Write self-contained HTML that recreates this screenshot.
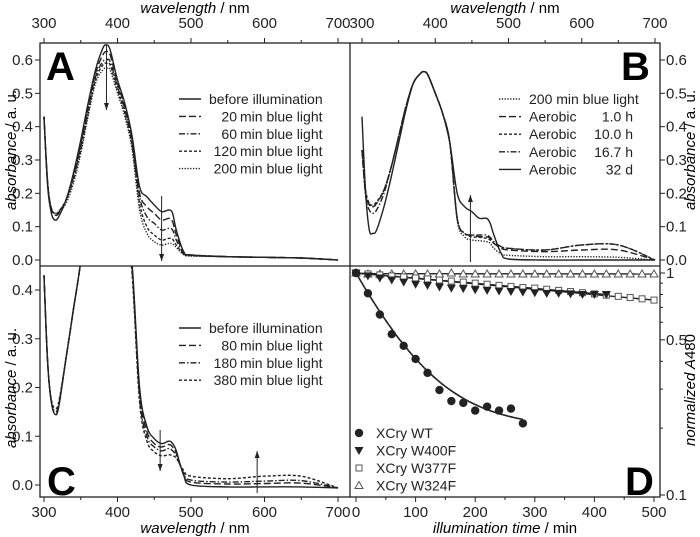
<!DOCTYPE html>
<html><head><meta charset="utf-8"><style>
body{margin:0;background:#fff}
svg{display:block;font-family:"Liberation Sans",sans-serif}
</style></head><body>
<svg id="fig" width="700" height="537" viewBox="0 0 700 537">
<defs>
<clipPath id="clipA"><rect x="40" y="43" width="310" height="223"/></clipPath>
<clipPath id="clipB"><rect x="350" y="43" width="310" height="223"/></clipPath>
<clipPath id="clipC"><rect x="40" y="266" width="310" height="231"/></clipPath>
<clipPath id="clipD"><rect x="350" y="266" width="310" height="231"/></clipPath>
</defs>
<g id="frames" fill="none" stroke="#222" stroke-width="1.3">
<rect x="40" y="43" width="620" height="454"/>
<line x1="350" y1="43" x2="350" y2="497"/>
<line x1="40" y1="266" x2="660" y2="266"/>
</g>
<g id="layer"></g>
<text x="195" y="13" text-anchor="middle" font-size="15"><tspan font-style="italic">wavelength</tspan> / nm</text>
<text x="505" y="13" text-anchor="middle" font-size="15"><tspan font-style="italic">wavelength</tspan> / nm</text>
<text x="195" y="533" text-anchor="middle" font-size="15"><tspan font-style="italic">wavelength</tspan> / nm</text>
<text x="505" y="533" text-anchor="middle" font-size="15"><tspan font-style="italic">illumination time</tspan> / min</text>
<text transform="translate(16,150) rotate(-90)" text-anchor="middle" font-size="15"><tspan font-style="italic">absorbance</tspan> / a. u.</text>
<text transform="translate(16,388) rotate(-90)" text-anchor="middle" font-size="15"><tspan font-style="italic">absorbance</tspan> / a. u.</text>
<text transform="translate(695,150) rotate(-90)" text-anchor="middle" font-size="15"><tspan font-style="italic">absorbance</tspan> / a. u.</text>
<text transform="translate(695,390) rotate(-90)" text-anchor="middle" font-size="15"><tspan font-style="italic">normalized A</tspan>480</text>
<text x="46" y="80" font-size="40" font-weight="bold">A</text>
<text x="621" y="80" font-size="40" font-weight="bold">B</text>
<text x="47" y="495" font-size="40" font-weight="bold">C</text>
<text x="625" y="495" font-size="40" font-weight="bold">D</text>
</svg>
<script>
// ---- data ----
const wl = [300,305,310,315,320,330,340,350,360,370,380,385,390,400,410,420,430,440,450,460,470,475,480,490,500,550,600,650,700];
const aBefore = [0.43,0.22,0.14,0.12,0.13,0.18,0.26,0.36,0.47,0.57,0.635,0.645,0.63,0.54,0.47,0.37,0.22,0.19,0.165,0.145,0.15,0.14,0.09,0.025,0.015,0.01,0.008,0.006,0.0];
const a20 = [0.43,0.23,0.15,0.135,0.14,0.18,0.25,0.35,0.46,0.56,0.615,0.625,0.615,0.53,0.46,0.36,0.2,0.16,0.14,0.12,0.125,0.115,0.075,0.022,0.015,0.01,0.008,0.006,0.0];
const a60 = [0.43,0.23,0.155,0.14,0.145,0.18,0.25,0.34,0.45,0.55,0.595,0.6,0.595,0.52,0.45,0.35,0.19,0.13,0.11,0.09,0.095,0.09,0.06,0.02,0.014,0.01,0.008,0.006,0.0];
const a120 = [0.43,0.23,0.155,0.14,0.145,0.18,0.24,0.33,0.44,0.54,0.585,0.59,0.585,0.51,0.44,0.34,0.17,0.1,0.075,0.06,0.065,0.062,0.045,0.018,0.013,0.01,0.008,0.006,0.0];
const a200 = [0.43,0.23,0.155,0.14,0.145,0.17,0.23,0.32,0.43,0.53,0.57,0.575,0.57,0.5,0.43,0.33,0.15,0.08,0.055,0.045,0.05,0.048,0.038,0.016,0.012,0.01,0.008,0.006,0.0];
const b200 = [0.33,0.2,0.17,0.16,0.17,0.21,0.28,0.37,0.46,0.53,0.56,0.565,0.555,0.5,0.44,0.35,0.12,0.07,0.06,0.058,0.055,0.05,0.035,0.018,0.014,0.01,0.01,0.008,0.0];
const b1h = [0.33,0.2,0.165,0.16,0.17,0.21,0.28,0.37,0.46,0.53,0.56,0.565,0.555,0.5,0.44,0.35,0.125,0.08,0.075,0.07,0.07,0.065,0.05,0.035,0.03,0.025,0.03,0.03,0.0];
const b10h = [0.33,0.21,0.17,0.165,0.175,0.21,0.28,0.37,0.46,0.53,0.56,0.565,0.555,0.5,0.44,0.35,0.125,0.08,0.07,0.068,0.065,0.06,0.05,0.04,0.035,0.03,0.045,0.045,0.0];
const b16h = [0.33,0.19,0.15,0.14,0.15,0.2,0.28,0.37,0.46,0.53,0.56,0.565,0.555,0.5,0.44,0.35,0.125,0.08,0.075,0.075,0.075,0.068,0.055,0.04,0.035,0.03,0.045,0.045,0.0];
const b32d = [0.43,0.2,0.09,0.08,0.09,0.16,0.25,0.35,0.45,0.53,0.56,0.565,0.555,0.5,0.44,0.35,0.2,0.16,0.145,0.125,0.125,0.11,0.075,0.02,0.003,0.0,0.0,0.0,0.0];
const cBefore = [0.43,0.25,0.17,0.145,0.16,0.26,0.36,0.46,0.6,0.7,0.75,0.75,0.74,0.66,0.56,0.45,0.2,0.12,0.095,0.085,0.09,0.085,0.07,0.02,0.0,-0.004,-0.004,-0.004,-0.006];
const c80 = [0.43,0.25,0.17,0.148,0.162,0.26,0.36,0.46,0.6,0.7,0.75,0.75,0.74,0.66,0.56,0.44,0.19,0.11,0.085,0.078,0.083,0.078,0.065,0.022,0.006,0.002,0.003,0.004,-0.006];
const c180 = [0.43,0.25,0.17,0.152,0.165,0.26,0.36,0.46,0.6,0.7,0.75,0.75,0.74,0.66,0.56,0.44,0.18,0.1,0.078,0.07,0.075,0.07,0.06,0.024,0.01,0.006,0.008,0.009,-0.006];
const c380 = [0.43,0.25,0.175,0.158,0.17,0.26,0.36,0.46,0.6,0.7,0.75,0.75,0.74,0.66,0.56,0.43,0.17,0.09,0.068,0.06,0.062,0.06,0.055,0.03,0.018,0.013,0.018,0.018,-0.006];
const tWT = [0,20,40,60,80,100,120,140,160,180,200,220,240,260,280];
const vWT = [1,0.81,0.65,0.53,0.47,0.41,0.355,0.297,0.265,0.26,0.24,0.25,0.24,0.245,0.21];
const t400 = [0,20,40,60,80,100,120,140,160,180,200,220,240,260,280,300,320,340,360,380,400,420];
const v400 = [1,0.97,0.95,0.93,0.91,0.89,0.88,0.865,0.855,0.85,0.84,0.835,0.83,0.825,0.82,0.815,0.81,0.81,0.805,0.8,0.8,0.8];
const t377 = [0,20,40,60,80,100,120,140,160,180,200,220,240,260,280,300,320,340,360,380,400,420,440,460,480,500];
const v377 = [1,0.99,0.98,0.97,0.96,0.95,0.94,0.93,0.92,0.91,0.9,0.89,0.88,0.87,0.86,0.855,0.845,0.835,0.825,0.815,0.805,0.795,0.785,0.775,0.765,0.755];
const t324 = [0,20,40,60,80,100,120,140,160,180,200,220,240,260,280,300,320,340,360,380,400,420,440,460,480,500];
const v324 = [1,0.99,0.99,0.99,0.99,0.99,0.99,0.99,1.0,0.99,0.99,0.99,0.99,0.99,0.99,0.99,0.99,0.99,0.99,0.99,0.99,0.99,0.99,0.99,0.99,0.99];
const fitWT = [0.8, 75, 0.2]; // amplitude, tau, offset
const fitT = [0, 500];
const fit400 = [1, 0.80];
const fit377 = [1, 0.755];
const fit324 = [0.993, 0.99];
const specTicks = [300,400,500,600,700];
const absTicksTop = [0.0,0.1,0.2,0.3,0.4,0.5,0.6];
const absTicksC = [0.0,0.1,0.2,0.3,0.4];
const timeTicks = [0,100,200,300,400,500];
const logTicks = [0.1,0.2,0.3,0.4,0.5,0.6,0.7,0.8,0.9,1];
const logLabels = ["0.1","","","","0.5","","","","","1"];

// ---- scales ----
const NS='http://www.w3.org/2000/svg';
const layer=document.getElementById('layer');
const xL = w => 44 + (w-300)*294/400;
const xR = w => 362 + (w-300)*293/400;
const yTop = v => 260 - v*200/0.6;
const yC = v => 485 - v*487.5;
const xD = t => 356 + t*298/500;
const yD = v => 273 - Math.log10(v)*222;
const DASH = {solid:'', longdash:'7,3', dashdot:'6,2,1.5,2', shortdash:'3,2', dot:'1.3,1.5'};

function mk(tag, attrs, parent){const e=document.createElementNS(NS,tag);for(const k in attrs)e.setAttribute(k,attrs[k]);(parent||layer).appendChild(e);return e;}
function smooth(pts){let d='M'+pts[0][0].toFixed(1)+','+pts[0][1].toFixed(1);
 for(let i=0;i<pts.length-1;i++){const p0=pts[Math.max(0,i-1)],p1=pts[i],p2=pts[i+1],p3=pts[Math.min(pts.length-1,i+2)];
  const c1=[p1[0]+(p2[0]-p0[0])/6,p1[1]+(p2[1]-p0[1])/6],c2=[p2[0]-(p3[0]-p1[0])/6,p2[1]-(p3[1]-p1[1])/6];
  d+='C'+c1[0].toFixed(1)+','+c1[1].toFixed(1)+' '+c2[0].toFixed(1)+','+c2[1].toFixed(1)+' '+p2[0].toFixed(1)+','+p2[1].toFixed(1);}
 return d;}
function spectrum(vals, xs, ys, clip, dash, name){
 const p=mk('path',{d:smooth(wl.map((w,i)=>[xs(w),ys(vals[i])])),fill:'none',stroke:'#222','stroke-width':1.4,'stroke-dasharray':DASH[dash],'clip-path':'url(#'+clip+')'});
 
 
}
function line(x1,y1,x2,y2,w){return mk('line',{x1,y1,x2,y2,stroke:'#222','stroke-width':w||1});}
function text(x,y,s,anchor,size){const t=mk('text',{x,y,'text-anchor':anchor||'start','font-size':size||14,fill:'#222'});t.textContent=s;return t;}

// ---- spectra ----
spectrum(aBefore,xL,yTop,'clipA','solid','a-before-illumination');
spectrum(a20,xL,yTop,'clipA','longdash','a-20min');
spectrum(a60,xL,yTop,'clipA','dashdot','a-60min');
spectrum(a120,xL,yTop,'clipA','shortdash','a-120min');
spectrum(a200,xL,yTop,'clipA','dot','a-200min');
spectrum(b200,xR,yTop,'clipB','dot','b-200min');
spectrum(b1h,xR,yTop,'clipB','longdash','b-aerobic-1h');
spectrum(b10h,xR,yTop,'clipB','shortdash','b-aerobic-10h');
spectrum(b16h,xR,yTop,'clipB','dashdot','b-aerobic-16h');
spectrum(b32d,xR,yTop,'clipB','solid','b-aerobic-32d');
spectrum(cBefore,xL,yC,'clipC','solid','c-before-illumination');
spectrum(c80,xL,yC,'clipC','longdash','c-80min');
spectrum(c180,xL,yC,'clipC','dashdot','c-180min');
spectrum(c380,xL,yC,'clipC','shortdash','c-380min');

// ---- arrows ----
function arrow(x,y1,y2,name){const g=mk('g',{});
 mk('line',{x1:x,y1:y1,x2:x,y2:y2,stroke:'#222','stroke-width':1},g);const s=y2>y1?1:-1;
 mk('path',{d:`M${x-2.5},${y2-7*s}L${x},${y2}L${x+2.5},${y2-7*s}Z`,fill:'#222'},g);}
arrow(xL(385),45,110,'arrow-a-peak');
arrow(xL(460),196,261,'arrow-a-480');
arrow(xR(448),262,195,'arrow-b-480');
arrow(xL(458),430,471,'arrow-c-480');
arrow(xL(590),493,451,'arrow-c-600');

// ---- axes ----
specTicks.forEach(w=>{line(xL(w),43,xL(w),38);text(xL(w),28,String(w),'middle',15);
 line(xR(w),43,xR(w),38);text(xR(w),28,String(w),'middle',15);
 line(xL(w),497,xL(w),502);text(xL(w),517,String(w),'middle',15);});
[350,450,550,650].forEach(w=>{line(xL(w),43,xL(w),40);line(xR(w),43,xR(w),40);line(xL(w),497,xL(w),500);});
absTicksTop.forEach(v=>{line(40,yTop(v),35,yTop(v));text(33,yTop(v)+5,v.toFixed(1),'end',15);
 line(660,yTop(v),665,yTop(v));text(666,yTop(v)+5,v.toFixed(1),'start',15);});
absTicksC.forEach(v=>{line(40,yC(v),35,yC(v));text(33,yC(v)+5,v.toFixed(1),'end',15);});
timeTicks.forEach(t=>{line(xD(t),497,xD(t),502);text(xD(t),517,String(t),'middle',15);});
[50,150,250,350,450].forEach(t=>line(xD(t),497,xD(t),500));
logTicks.forEach((v,i)=>{line(660,yD(v),logLabels[i]?665:663,yD(v));if(logLabels[i])text(666,yD(v)+5,logLabels[i],'start',15);});

// ---- panel D ----
const fitPts=[];for(let t=0;t<=280;t+=5)fitPts.push([xD(t),yD(fitWT[0]*Math.exp(-t/fitWT[1])+fitWT[2])]);
const fw=mk('path',{d:smooth(fitPts),fill:'none',stroke:'#222','stroke-width':1.6});


[[fit400,420],[fit377,500],[fit324,500]].forEach(([f,tEnd],i)=>{const l=line(xD(fitT[0]),yD(f[0]),xD(tEnd),yD(f[1]),1.4);
 
 });
function marker(kind,x,y,parent){
 if(kind==='circle')return mk('circle',{cx:x,cy:y,r:4.2,fill:'#222'},parent);
 if(kind==='tdown')return mk('path',{d:`M${x-4.5},${y-3.5}L${x+4.5},${y-3.5}L${x},${y+4.5}Z`,fill:'#222'},parent);
 if(kind==='square')return mk('rect',{x:x-3,y:y-3,width:6,height:6,fill:'#fff',stroke:'#555','stroke-width':1},parent);
 return mk('path',{d:`M${x-4},${y+3}L${x+4},${y+3}L${x},${y-4}Z`,fill:'#fff',stroke:'#555','stroke-width':1},parent);}
t324.forEach((t,i)=>{const m=marker('tup',xD(t),yD(v324[i]));});
t377.forEach((t,i)=>{const m=marker('square',xD(t),yD(v377[i]));});
t400.forEach((t,i)=>{const m=marker('tdown',xD(t),yD(v400[i]));});
tWT.forEach((t,i)=>{const m=marker('circle',xD(t),yD(vWT[i]));});

// ---- legends ----
function legendLine(x,y,dash,name){const l=mk('line',{x1:x,y1:y,x2:x+22,y2:y,stroke:'#222','stroke-width':1.4,'stroke-dasharray':DASH[dash]});
 }
const legA=[['solid','','before illumination'],['longdash','20','min blue light'],['dashdot','60','min blue light'],['shortdash','120','min blue light'],['dot','200','min blue light']];
legA.forEach((r,i)=>{const y=99+i*17.4;legendLine(179,y,r[0],'legend-a-entry');
 if(r[1]){text(237,y+5,r[1],'end');text(240,y+5,r[2]);}else text(209,y+5,r[2]);});
const legC=[['solid','','before illumination'],['longdash','80','min blue light'],['dashdot','180','min blue light'],['shortdash','380','min blue light']];
legC.forEach((r,i)=>{const y=328+i*17.4;legendLine(179,y,r[0],'legend-c-entry');
 if(r[1]){text(237,y+5,r[1],'end');text(240,y+5,r[2]);}else text(209,y+5,r[2]);});
const legB=[['dot','200 min blue light',''],['longdash','Aerobic','1.0 h'],['shortdash','Aerobic','10.0 h'],['dashdot','Aerobic','16.7 h'],['solid','Aerobic','32 d']];
legB.forEach((r,i)=>{const y=99+i*17.6;legendLine(499,y,r[0],'legend-b-entry');text(529,y+5,r[1]);if(r[2])text(633,y+5,r[2],'end');});
const legD=[['circle','XCry WT'],['tdown','XCry W400F'],['square','XCry W377F'],['tup','XCry W324F']];
legD.forEach((r,i)=>{const y=433+i*17.5;const m=marker(r[0],359,y);text(376,y+5,r[1]);});
</script>
</body></html>
